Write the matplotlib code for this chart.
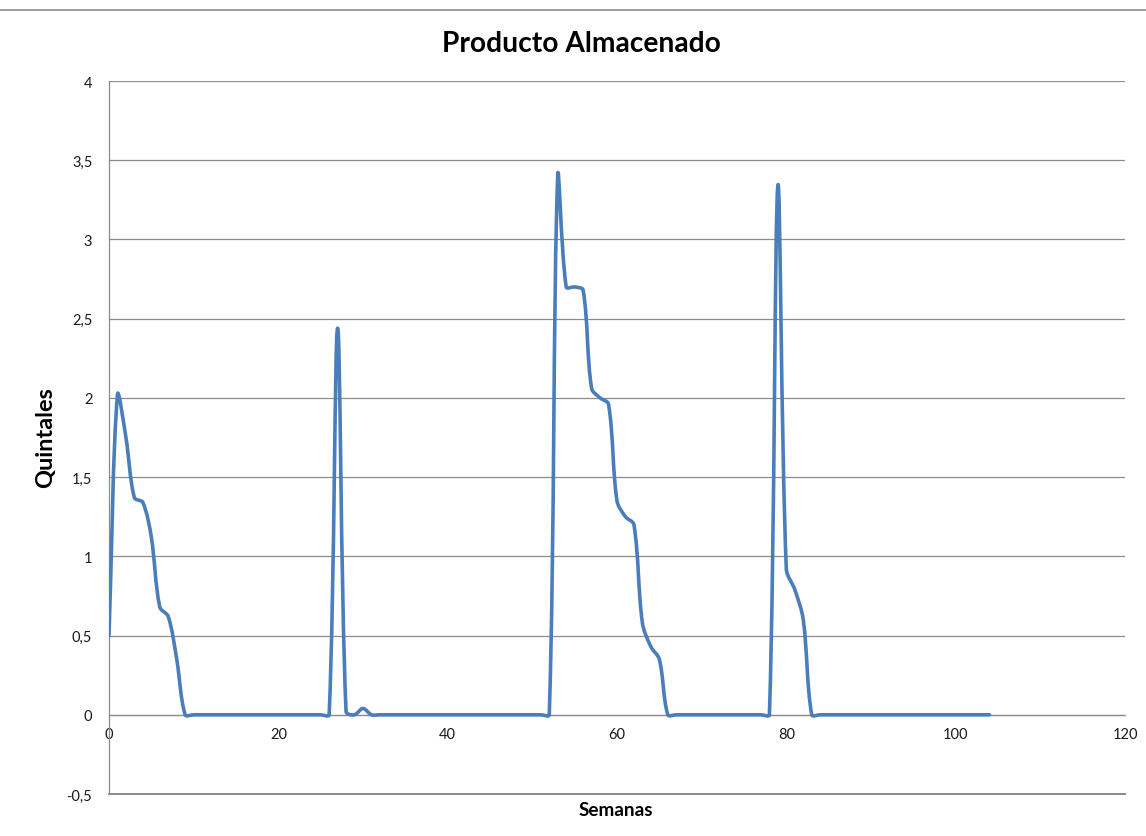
import numpy as np
import matplotlib
matplotlib.use("Agg")
import matplotlib.pyplot as plt
from matplotlib.path import Path
from matplotlib.patches import PathPatch
from matplotlib.lines import Line2D
from matplotlib.ticker import FuncFormatter

plt.rcParams['font.family'] = ['Lato', 'DejaVu Sans']

# Weekly stored product (quintales), weeks 0..104
weeks = list(range(0, 105))
stock = ([0.5, 2.02, 1.75, 1.37, 1.34, 1.12, 0.68, 0.62, 0.35]   # weeks 0-8
         + [0.0] * 18                                            # weeks 9-26
         + [2.44, 0.02, 0.0, 0.04]                               # weeks 27-30
         + [0.0] * 22                                            # weeks 31-52
         + [3.4, 2.7, 2.7, 2.68, 2.06, 2.0, 1.96, 1.35, 1.25, 1.2,
            0.58, 0.43, 0.35]                                    # weeks 53-65
         + [0.0] * 13                                            # weeks 66-78
         + [3.34, 0.92, 0.79, 0.6]                               # weeks 79-82
         + [0.0] * 22)                                           # weeks 83-104

title = "Producto Almacenado"
xlabel = "Semanas"
ylabel = "Quintales"
xticks = [0, 20, 40, 60, 80, 100, 120]
yticks = [-0.5, 0, 0.5, 1, 1.5, 2, 2.5, 3, 3.5, 4]

W, H, DPI = 1146, 837, 100
fig = plt.figure(figsize=(W / DPI, H / DPI), dpi=DPI)
fig.patch.set_facecolor("white")

ax = fig.add_axes([109 / W, 1 - 795 / H, (1125 - 109) / W, (795 - 82) / H])
ax.set_xlim(0, 120)
ax.set_ylim(-0.5, 4)
ax.set_xticks(xticks)
ax.set_yticks(yticks)

grid_c = "#8c8c8c"
ax.grid(axis="y", color=grid_c, linewidth=0.9)
ax.set_axisbelow(True)
# bottom edge of the plot area (the -0,5 gridline)
ax.axhline(yticks[0], color=grid_c, linewidth=1.4, clip_on=False, zorder=1)
for s in ("top", "right"):
    ax.spines[s].set_visible(False)
ax.spines["left"].set_color(grid_c)
ax.spines["left"].set_linewidth(0.9)
ax.spines["bottom"].set_position(("data", 0))
ax.spines["bottom"].set_color(grid_c)
ax.spines["bottom"].set_linewidth(0.9)

fmt = FuncFormatter(lambda v, p: ("%g" % v).replace(".", ","))
ax.yaxis.set_major_formatter(fmt)
ax.xaxis.set_major_formatter(fmt)
ax.tick_params(axis="both", length=0, labelsize=10.5, colors="#1a1a1a")
ax.tick_params(axis="y", pad=12)
ax.tick_params(axis="x", pad=9)

# Smoothed line: cubic Bezier segments, control points from neighbour
# tangents scaled by segment lengths measured in display space.
x = np.asarray(weeks, dtype=float)
y = np.asarray(stock, dtype=float)
P = ax.transData.transform(np.column_stack([x, y]))
n = len(P)
Pm = np.vstack([P[:1], P, P[-1:]])
d = np.linalg.norm(np.diff(Pm, axis=0), axis=1)  # d[j] = |Pm[j+1]-Pm[j]|
k = 1.0 / 3.0
verts = [P[0]]
codes = [Path.MOVETO]
for i in range(n - 1):
    j = i + 1  # index of P[i] in Pm
    p0, p1, p2, p3 = Pm[j - 1], Pm[j], Pm[j + 1], Pm[j + 2]
    da, db, dc = d[j - 1], d[j], d[j + 1]
    r1 = db / (da + db) if (da + db) > 0 else 0.5
    r2 = db / (db + dc) if (db + dc) > 0 else 0.5
    c1 = p1 + (p2 - p0) * k * r1
    c2 = p2 - (p3 - p1) * k * r2
    verts += [c1, c2, p2]
    codes += [Path.CURVE4] * 3
verts_data = ax.transData.inverted().transform(np.array(verts))
path = Path(verts_data, codes)
ax.add_patch(PathPatch(path, facecolor="none", edgecolor="#4a7ebb",
                       linewidth=2.6, capstyle="round", joinstyle="round",
                       transform=ax.transData, zorder=3))

# Chart frame line at the top
fig.add_artist(Line2D([0, 1], [1 - 11 / H, 1 - 11 / H], transform=fig.transFigure,
                      color="#8c8c8c", linewidth=1.2))

renderer = fig.canvas.get_renderer()


def fit(t, target, use_height=False, base=12):
    t.set_fontsize(base)
    bb = t.get_window_extent(renderer)
    size = bb.height if use_height else bb.width
    t.set_fontsize(base * target / size)


t1 = fig.text(581 / W, 1 - 44 / H, title, ha="center", va="center",
              fontweight="bold", color="black")
fit(t1, 277)
t2 = fig.text(616 / W, 1 - 811 / H, xlabel, ha="center", va="center",
              fontweight="bold", color="black")
fit(t2, 74)
t3 = fig.text(46 / W, 1 - 438 / H, ylabel, ha="center", va="center",
              rotation=90, fontweight="bold", color="black")
fit(t3, 100, use_height=True)

fig.savefig("out.png", dpi=DPI, facecolor="white")
